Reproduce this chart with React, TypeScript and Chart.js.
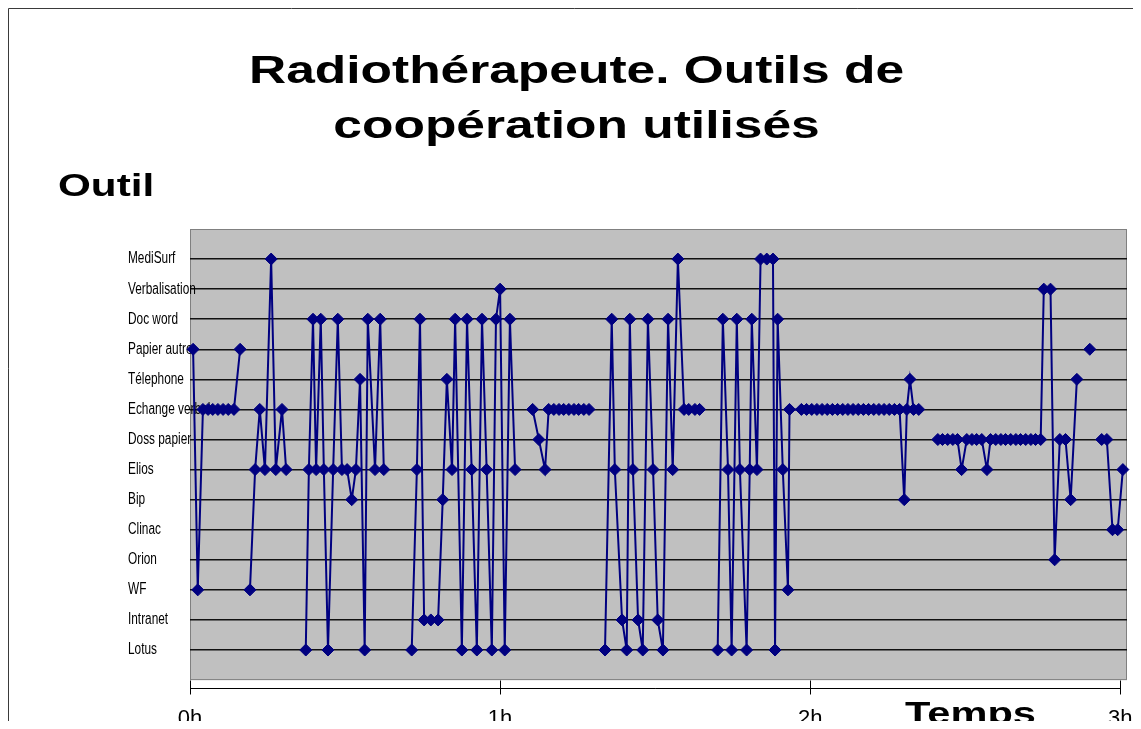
import React, { useEffect, useRef } from 'react';
import { Chart, registerables } from 'chart.js';

Chart.register(...registerables);

// Catégories de l'axe vertical (niveau 1 = Lotus ... 14 = MediSurf)
const outils = [
  'Lotus', 'Intranet', 'WF', 'Orion', 'Clinac', 'Bip', 'Elios',
  'Doss papier', 'Echange verbal', 'Télephone', 'Papier autre',
  'Doc word', 'Verbalisation', 'MediSurf',
];

// Temps de chaque observation (minutes depuis 0h)
const temps = [
  0.6, 1.5, 2.5, 3.5, 4.4, 5.4, 6.4, 7.4, 8.5, 9.7,
  10.6,
  11.6, 12.6, 13.5, 14.5, 15.7, 16.6, 17.8, 18.6,
  20.5,
  22.4, 23.0, 23.8, 24.4, 25.3, 25.9, 26.7, 27.7, 28.6, 29.4, 30.4, 31.3, 32.1, 32.9, 33.8, 34.4, 35.8, 36.8, 37.5,
  40.0,
  42.9, 43.9, 44.5, 45.3, 46.6, 48.0, 48.9, 49.7, 50.7, 51.3, 52.6, 53.6, 54.5, 55.5, 56.5, 57.4, 58.4, 59.2, 60.0, 60.9, 61.9, 62.9,
  64.5,
  66.3, 67.5, 68.7, 69.4, 70.4, 71.4, 72.3, 73.3, 74.3, 75.2, 76.2, 77.2,
  78.8,
  80.3, 81.6, 82.2, 83.6, 84.5, 85.1, 85.7, 86.7, 87.6, 88.6, 89.6, 90.5, 91.5, 92.5, 93.4, 94.4, 95.6, 96.5, 97.7, 98.6,
  100.4,
  102.1, 103.1, 104.1, 104.8, 105.8, 106.4, 107.7, 108.3, 108.7, 109.7, 110.4, 111.6, 112.8, 113.2, 113.7, 114.7, 115.7, 116.0,
  118.3, 119.3, 120.3, 121.3, 122.3, 123.3, 124.3, 125.3, 126.3, 127.3, 128.3, 129.3, 130.3, 131.3, 132.3, 133.3, 134.3, 135.3, 136.3, 137.3,
  138.2, 138.7, 139.3, 140.0, 141.0,
  142.8,
  144.7, 145.6, 146.6, 147.6, 148.5, 149.3, 150.3, 151.3, 152.2, 153.2, 154.2, 154.9, 155.9, 156.9, 157.8, 158.8, 159.8, 160.7, 161.7, 162.7, 163.6, 164.6,
  165.2, 166.5, 167.3, 168.3, 169.4, 170.4, 171.6,
  172.8,
  174.1,
  175.2,
  176.4, 177.4, 178.5, 179.5, 180.5,
];

// Outil utilisé à chaque observation (index dans "outils", 1-based; null = interruption)
const outilUtilise = [
  11, 3, 9, 9, 9, 9, 9, 9, 9, 11,
  null,
  3, 7, 9, 7, 14, 7, 9, 7,
  null,
  1, 7, 12, 7, 12, 7, 1, 7, 12, 7, 7, 6, 7, 10, 1, 12, 7, 12, 7,
  null,
  1, 7, 12, 2, 2, 2, 6, 10, 7, 12, 1, 12, 7, 1, 12, 7, 1, 12, 13, 1, 12, 7,
  null,
  9, 8, 7, 9, 9, 9, 9, 9, 9, 9, 9, 9,
  null,
  1, 12, 7, 2, 1, 12, 7, 2, 1, 12, 7, 2, 1, 12, 7, 14, 9, 9, 9, 9,
  null,
  1, 12, 7, 1, 12, 7, 1, 7, 12, 7, 14, 14, 14, 1, 12, 7, 3, 9,
  9, 9, 9, 9, 9, 9, 9, 9, 9, 9, 9, 9, 9, 9, 9, 9, 9, 9, 9, 9,
  6, 9, 10, 9, 9,
  null,
  8, 8, 8, 8, 8, 7, 8, 8, 8, 8, 7, 8, 8, 8, 8, 8, 8, 8, 8, 8, 8, 8,
  13, 13, 4, 8, 8, 6, 10,
  null,
  11,
  null,
  8, 8, 5, 5, 7,
];

// Axe horizontal
const heuresValeurs = [0, 60, 120, 180];
const heuresLabels = ['0h', '1h', '2h', '3h'];

const titreLignes = ['Radiothérapeute. Outils de', 'coopération utilisés'];
const titreAxeY = 'Outil';
const titreAxeX = 'Temps';

const FONT = "'Liberation Sans', Arial, sans-serif";
const Y_LABEL_SX = 0.74;

function stretchedText(ctx: any, text: string, x: number, y: number, font: string, sx: number, align: string) {
  ctx.save();
  ctx.font = font;
  ctx.fillStyle = '#000';
  ctx.textAlign = align;
  ctx.textBaseline = 'alphabetic';
  ctx.translate(x, y);
  ctx.scale(sx, 1);
  ctx.fillText(text, 0, 0);
  ctx.restore();
}

export default function App() {
  const canvasRef = useRef<HTMLCanvasElement>(null);

  useEffect(() => {
    const canvas = canvasRef.current;
    if (!canvas) return;

    const points = temps.map((t, i) => ({ x: t, y: outilUtilise[i] }));

    const decor = {
      id: 'decor',
      beforeDraw(chart: any) {
        const { ctx, chartArea, scales } = chart;
        const y = scales.y;
        ctx.save();
        ctx.fillStyle = '#ffffff';
        ctx.fillRect(0, 0, chart.width, chart.height);
        // cadre extérieur
        ctx.strokeStyle = '#3a3a3a';
        ctx.lineWidth = 1;
        ctx.beginPath();
        ctx.moveTo(0.5, chart.height);
        ctx.lineTo(0.5, 0.5);
        ctx.lineTo(chart.width, 0.5);
        ctx.stroke();
        // zone de traçage grise
        const top = chartArea.top;
        const bottom = y.getPixelForValue(0);
        ctx.fillStyle = '#c0c0c0';
        ctx.fillRect(chartArea.left, top, chartArea.right - chartArea.left, bottom - top);
        ctx.strokeStyle = '#808080';
        ctx.strokeRect(chartArea.left + 0.5, top + 0.5, chartArea.right - chartArea.left - 1, bottom - top - 1);
        ctx.restore();
      },
      afterDraw(chart: any) {
        const { ctx, chartArea, scales } = chart;
        const x = scales.x;
        // axe des temps
        const ay = chartArea.bottom + 0.5;
        ctx.save();
        ctx.strokeStyle = '#000';
        ctx.lineWidth = 1;
        ctx.beginPath();
        ctx.moveTo(x.getPixelForValue(heuresValeurs[0]), ay);
        ctx.lineTo(x.getPixelForValue(heuresValeurs[heuresValeurs.length - 1]), ay);
        for (const v of heuresValeurs) {
          const px = Math.round(x.getPixelForValue(v)) + 0.5;
          ctx.moveTo(px, ay - 8);
          ctx.lineTo(px, ay + 6);
        }
        ctx.stroke();
        ctx.restore();
        // titres
        const cx = 568.5;
        stretchedText(ctx, titreLignes[0], cx, 75, `bold 39px ${FONT}`, 1.32, 'center');
        stretchedText(ctx, titreLignes[1], cx, 130, `bold 39px ${FONT}`, 1.32, 'center');
        stretchedText(ctx, titreAxeY, 50, 188, `bold 32px ${FONT}`, 1.32, 'left');
        stretchedText(ctx, titreAxeX, 897, 716, `bold 32px ${FONT}`, 1.3, 'left');
      },
    };

    const chart = new Chart(canvas, {
      type: 'line',
      data: {
        datasets: [
          {
            data: points,
            borderColor: '#000080',
            backgroundColor: '#000080',
            borderWidth: 2,
            pointStyle: 'rectRot',
            pointRadius: 6,
            pointBorderWidth: 1,
            pointBackgroundColor: '#000080',
            pointBorderColor: '#000080',
            tension: 0,
            spanGaps: false,
            clip: false,
          } as any,
        ],
      },
      options: {
        responsive: true,
        maintainAspectRatio: false,
        animation: false,
        layout: { padding: { left: 120, top: 221, right: 14, bottom: 0 } },
        plugins: {
          legend: { display: false },
          title: { display: false },
          tooltip: { enabled: false },
        },
        scales: {
          x: {
            type: 'linear',
            min: 0,
            max: 181.3,
            afterBuildTicks: (s: any) => {
              s.ticks = heuresValeurs.map((v) => ({ value: v }));
            },
            afterFit: (s: any) => {
              s.height = 41;
              s.paddingLeft = 0;
              s.paddingRight = 0;
            },
            ticks: {
              callback: (v: any) => heuresLabels[heuresValeurs.indexOf(Number(v))],
              font: { family: FONT, size: 22 },
              color: '#000',
              padding: 18,
              maxRotation: 0,
              autoSkip: false,
            },
            grid: { display: false, drawTicks: false },
            border: { display: false },
          },
          y: {
            type: 'linear',
            min: -0.263,
            max: 15,
            afterBuildTicks: (s: any) => {
              s.ticks = outils.map((_, i) => ({ value: i + 1 }));
            },
            afterFit: (s: any) => {
              s.width = 62;
              s.paddingTop = 0;
              s.paddingBottom = 0;
              // les libellés débordent sur la zone de traçage, comme dans l'original
              s._computeLabelArea = () => undefined;
              if (!s.__condensed) {
                const orig = s.drawLabels;
                s.drawLabels = function (area: any) {
                  const c = this.ctx;
                  c.save();
                  c.translate(this.left, 0);
                  c.scale(Y_LABEL_SX, 1);
                  c.translate(-this.left, 0);
                  orig.call(this, area);
                  c.restore();
                };
                s.__condensed = true;
              }
            },
            ticks: {
              callback: (v: any) => outils[Number(v) - 1],
              crossAlign: 'far',
              font: { family: FONT, size: 16 },
              color: '#000',
              autoSkip: false,
            },
            grid: { color: '#111', lineWidth: 1.5, drawTicks: false },
            border: { display: false },
          },
        },
      } as any,
      plugins: [decor],
    });

    return () => chart.destroy();
  }, []);

  return (
    <div style={{ position: 'relative', width: 1133, height: 721, marginBottom: -8 }}>
      <canvas ref={canvasRef} />
    </div>
  );
}
